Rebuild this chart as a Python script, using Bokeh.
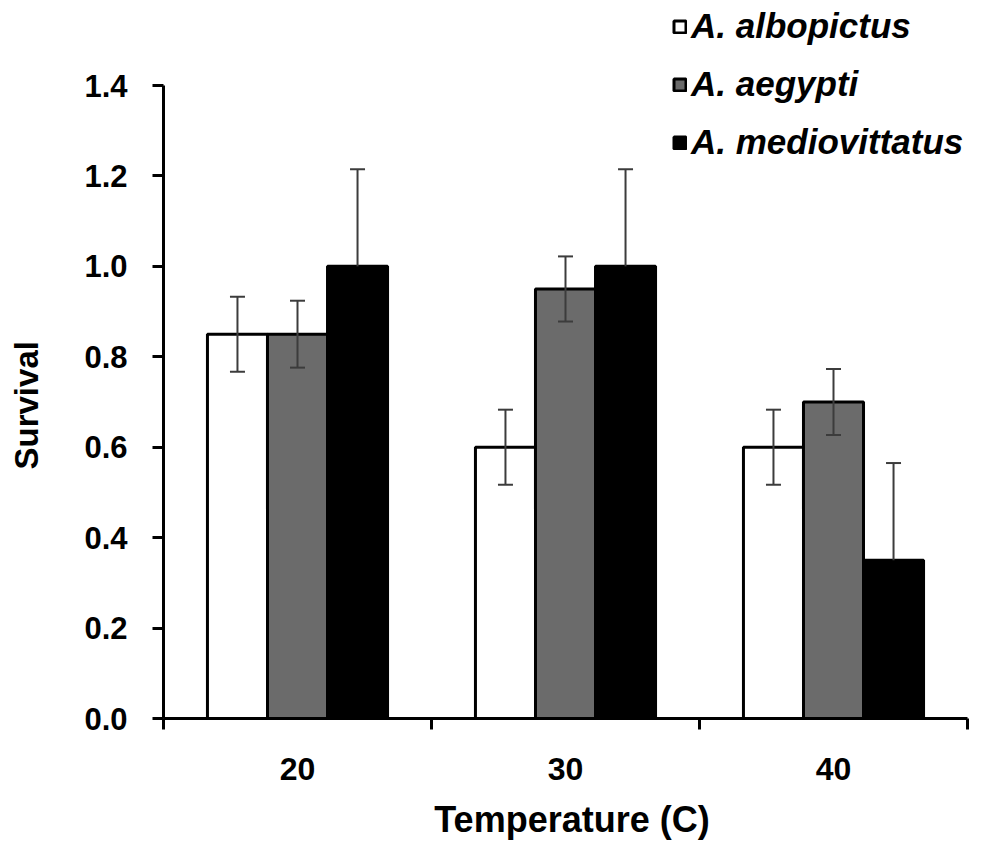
from bokeh.plotting import figure
from bokeh.models import (Range1d, LinearAxis, FixedTicker, Title,
                          Legend, LegendItem, ColumnDataSource, PrintfTickFormatter)
from bokeh.transform import dodge
from bokeh.embed import file_html
from bokeh.resources import INLINE

# ---- data ----
temps = ["20", "30", "40"]
species = ["A. albopictus", "A. aegypti", "A. mediovittatus"]
albopictus = [0.85, 0.60, 0.60]
aegypti = [0.85, 0.95, 0.70]
mediovittatus = [1.00, 1.00, 0.35]
albopictus_err = [0.083, 0.083, 0.083]
aegypti_err = [0.074, 0.072, 0.073]
mediovittatus_err = [0.215, 0.215, 0.215]
y_ticks = [0.0, 0.2, 0.4, 0.6, 0.8, 1.0, 1.2, 1.4]

FONT = "Liberation Sans"
W, H = 980, 842
LEFT, RIGHT, TOP, BOTTOM = 163, 0, 0, 124
y_top = 1.4 + 85 / (633 / 1.4)

n = len(temps)
centers = [i + 0.5 for i in range(n)]
edges = [float(i) for i in range(n + 1)]
x_end = n + 13 / 268  # a little room right of the last category for the legend

p = figure(width=W, height=H, x_range=Range1d(0, x_end), y_range=Range1d(0, y_top),
           output_backend="svg", toolbar_location=None,
           x_axis_location=None, y_axis_location=None,
           min_border_left=LEFT, min_border_right=RIGHT, min_border_top=TOP,
           min_border_bottom=BOTTOM)
p.outline_line_color = None
p.xgrid.visible = False
p.ygrid.visible = False
p.background_fill_color = "white"

# y axis
yaxis = LinearAxis(ticker=FixedTicker(ticks=y_ticks), bounds=(0, 1.4),
                   formatter=PrintfTickFormatter(format="%.1f"))
yaxis.major_tick_out = 11
yaxis.major_tick_in = 0
yaxis.minor_tick_line_color = None
yaxis.axis_line_width = 3
yaxis.major_tick_line_width = 3
yaxis.major_label_text_font = FONT
yaxis.major_label_text_font_style = "bold"
yaxis.major_label_text_font_size = "31px"
yaxis.major_label_text_color = "black"
yaxis.major_label_standoff = 25
# blank axis label only widens the axis panel (spacing for the title)
yaxis.axis_label = " "
yaxis.axis_label_text_font_size = "10px"
yaxis.axis_label_standoff = 20
p.add_layout(yaxis, "left")

# y title
ytitle = Title(text="Survival", align="left", offset=249, standoff=6,
               text_font=FONT, text_font_style="bold", text_font_size="33px",
               text_color="black")
p.add_layout(ytitle, "left")

# x axis: labels at category centres, ticks at category edges
xaxis = LinearAxis(ticker=FixedTicker(ticks=centers, minor_ticks=edges),
                   bounds=(0, n),
                   major_label_overrides={c: t for c, t in zip(centers, temps)})
xaxis.axis_line_width = 3
xaxis.major_tick_line_color = None
xaxis.major_tick_out = 0
xaxis.major_tick_in = 0
xaxis.minor_tick_line_color = "black"
xaxis.minor_tick_line_width = 3
xaxis.minor_tick_out = 11
xaxis.minor_tick_in = 0
xaxis.major_label_text_font = FONT
xaxis.major_label_text_font_style = "bold"
xaxis.major_label_text_font_size = "32px"
xaxis.major_label_text_color = "black"
xaxis.major_label_standoff = 28
xaxis.axis_label = "Temperature (C)"
xaxis.axis_label_text_font = FONT
xaxis.axis_label_text_font_style = "bold"
xaxis.axis_label_text_font_size = "36px"
xaxis.axis_label_text_color = "black"
xaxis.axis_label_standoff = 16
p.add_layout(xaxis, "below")

# bars
src = ColumnDataSource(dict(
    x=centers,
    albopictus=albopictus, aegypti=aegypti, mediovittatus=mediovittatus,
    alb_hi=[v + e for v, e in zip(albopictus, albopictus_err)],
    alb_lo=[v - e for v, e in zip(albopictus, albopictus_err)],
    aeg_hi=[v + e for v, e in zip(aegypti, aegypti_err)],
    aeg_lo=[v - e for v, e in zip(aegypti, aegypti_err)],
    med_hi=[v + e for v, e in zip(mediovittatus, mediovittatus_err)],
))

BW = 0.224
offsets = [-BW, 0.0, BW]
fills = ["white", "#6b6b6b", "black"]
cols = ["albopictus", "aegypti", "mediovittatus"]
renderers = []
for off, fc, col in zip(offsets, fills, cols):
    r = p.vbar(x=dodge("x", off), top=col, bottom=0, width=BW,
               fill_color=fc, line_color="black", line_width=3, source=src)
    renderers.append(r)

# error bars
EC = "#3c3c3c"
for off, top, hi, lo in [(-BW, "albopictus", "alb_hi", "alb_lo"),
                         (0.0, "aegypti", "aeg_hi", "aeg_lo"),
                         (BW, "mediovittatus", "med_hi", None)]:
    xs = dodge("x", off)
    low = lo if lo else top
    p.segment(x0=xs, y0=low, x1=xs, y1=hi, line_color=EC, line_width=2, source=src)
    p.scatter(x=xs, y=hi, marker="dash", size=15, line_color=EC, line_width=2, source=src)
    if lo:
        p.scatter(x=xs, y=lo, marker="dash", size=15, line_color=EC, line_width=2, source=src)

# legend
legend = Legend(items=[LegendItem(label=s, renderers=[r]) for s, r in zip(species, renderers)],
                location=(509, 556))
legend.label_text_font = FONT
legend.label_text_font_style = "bold italic"
legend.label_text_font_size = "35px"
legend.label_text_color = "black"
legend.glyph_width = 15
legend.glyph_height = 15
legend.label_height = 40
legend.label_standoff = 4
legend.spacing = 18
legend.padding = 0
legend.margin = 0
legend.border_line_color = None
legend.background_fill_alpha = 0
p.add_layout(legend)

open("out.html", "w").write(file_html(p, INLINE))
